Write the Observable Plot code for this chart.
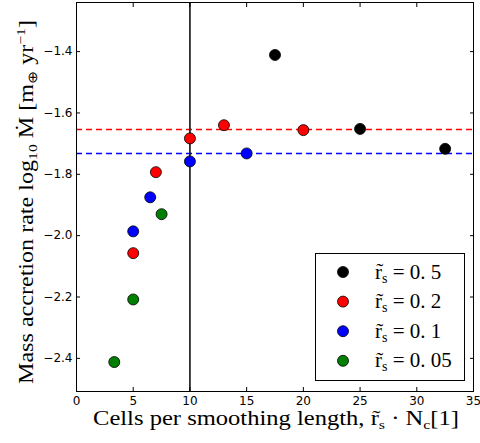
<!DOCTYPE html>
<html><head><meta charset="utf-8">
<script src="https://cdn.jsdelivr.net/npm/d3@7"></script>
<script src="https://cdn.jsdelivr.net/npm/@observablehq/plot@0.6"></script>
<style>body{margin:0;background:#fff} #chart{width:480px;height:443px}</style>
</head><body><div id="chart"></div>
<script>
// series (smoothing length r_s) and colours
const series = ["0.5", "0.2", "0.1", "0.05"];
const colors = ["#000000", "#ff0000", "#0000ff", "#007f00"];
// values
const xs05 = [17.5, 25, 32.5];
const ys05 = [-1.411, -1.652, -1.717];
const xs02 = [5, 7, 10, 13, 20];
const ys02 = [-2.057, -1.793, -1.683, -1.640, -1.656];
const xs01 = [5, 6.5, 10, 15];
const ys01 = [-1.986, -1.875, -1.758, -1.732];
const xs005 = [3.33, 5, 7.5];
const ys005 = [-2.412, -2.208, -1.930];
const refRed = [-1.654];
const refBlue = [-1.732];
const vline = [10];
const xTicks = [0, 5, 10, 15, 20, 25, 30, 35];
const yTicks = [-2.4, -2.2, -2.0, -1.8, -1.6, -1.4];

const xsAll = [xs05, xs02, xs01, xs005];
const ysAll = [ys05, ys02, ys01, ys005];
const data = [];
series.forEach((s, i) => xsAll[i].forEach((x, j) => data.push({x, y: ysAll[i][j], s})));

const plot = Plot.plot({
  width: 480, height: 443,
  marginLeft: 76, marginRight: 7, marginTop: 2, marginBottom: 52,
  x: {domain: [0, 35]},
  y: {domain: [-2.508, -1.24]},
  color: {domain: series, range: colors},
  style: {fontFamily: "DejaVu Sans", fontSize: "12px", background: "#fff", color: "#000"},
  marks: [
    Plot.ruleY(refRed, {stroke: "#ff0000", strokeWidth: 1.5, strokeDasharray: "6,4"}),
    Plot.ruleY(refBlue, {stroke: "#0000ff", strokeWidth: 1.5, strokeDasharray: "6,4"}),
    Plot.ruleX(vline, {stroke: "#000", strokeWidth: 1.5}),
    Plot.dot(data, {x: "x", y: "y", fill: "s", stroke: "#000", strokeWidth: 0.8, r: 5.5}),
    Plot.axisX({anchor: "bottom", ticks: xTicks, tickSize: -4, tickPadding: 9, tickFormat: d3.format("d"), label: null}),
    Plot.axisX({anchor: "top", ticks: xTicks, tickSize: -4, fill: "none", label: null}),
    Plot.axisY({anchor: "left", ticks: yTicks, tickSize: -4, tickPadding: 8, tickFormat: d3.format(".1f"), label: null}),
    Plot.axisY({anchor: "right", ticks: yTicks, tickSize: -4, fill: "none", label: null}),
    Plot.frame({stroke: "#000", strokeWidth: 1})
  ]
});
document.getElementById("chart").appendChild(plot);

const svg = d3.select(plot);
const serif = "'Liberation Serif', serif";

// x label
const xl = svg.append("text").attr("x", 276).attr("y", 425)
  .attr("text-anchor", "middle").attr("font-family", serif).attr("font-size", 20).attr("fill", "#000")
  .attr("textLength", 366).attr("lengthAdjust", "spacingAndGlyphs");
xl.append("tspan").text("Cells per smoothing length, r\u0303");
xl.append("tspan").attr("font-size", 13).attr("dy", 4).text("s");
xl.append("tspan").attr("dy", -4).text(" \u00b7 N");
xl.append("tspan").attr("font-size", 13).attr("dy", 4).text("c");
xl.append("tspan").attr("dy", -4).text("[1]");

// y label
const yl = svg.append("text").attr("transform", "translate(33,202) rotate(-90)")
  .attr("text-anchor", "middle").attr("font-family", serif).attr("font-size", 20).attr("fill", "#000")
  .attr("textLength", 364).attr("lengthAdjust", "spacingAndGlyphs");
yl.append("tspan").text("Mass accretion rate log");
yl.append("tspan").attr("font-size", 13).attr("dy", 4).text("10");
yl.append("tspan").attr("dy", -4).text(" \u1E40 [m");
yl.append("tspan").attr("font-size", 13).attr("dy", 4).text("\u2295");
yl.append("tspan").attr("dy", -4).text(" yr");
yl.append("tspan").attr("font-size", 13).attr("dy", -8).text("\u22121");
yl.append("tspan").attr("dy", 8).text("]");

// legend
const lg = svg.append("g");
lg.append("rect").attr("x", 315.5).attr("y", 253.5).attr("width", 149).attr("height", 127)
  .attr("fill", "#fff").attr("stroke", "#000").attr("stroke-width", 1);
series.forEach((s, i) => {
  const cy = 272 + i * 29.6;
  lg.append("circle").attr("cx", 343).attr("cy", cy).attr("r", 5.5)
    .attr("fill", colors[i]).attr("stroke", "#000").attr("stroke-width", 0.8);
  const t = lg.append("text").attr("x", 375).attr("y", cy + 6.5).attr("text-anchor", "start")
    .attr("font-family", serif).attr("font-size", 21).attr("fill", "#000");
  t.append("tspan").text("r\u0303");
  t.append("tspan").attr("font-size", 14).attr("dy", 4).text("s");
  t.append("tspan").attr("dy", -4).text(" = " + s.replace(".", ". "));
});
</script>
</body></html>
